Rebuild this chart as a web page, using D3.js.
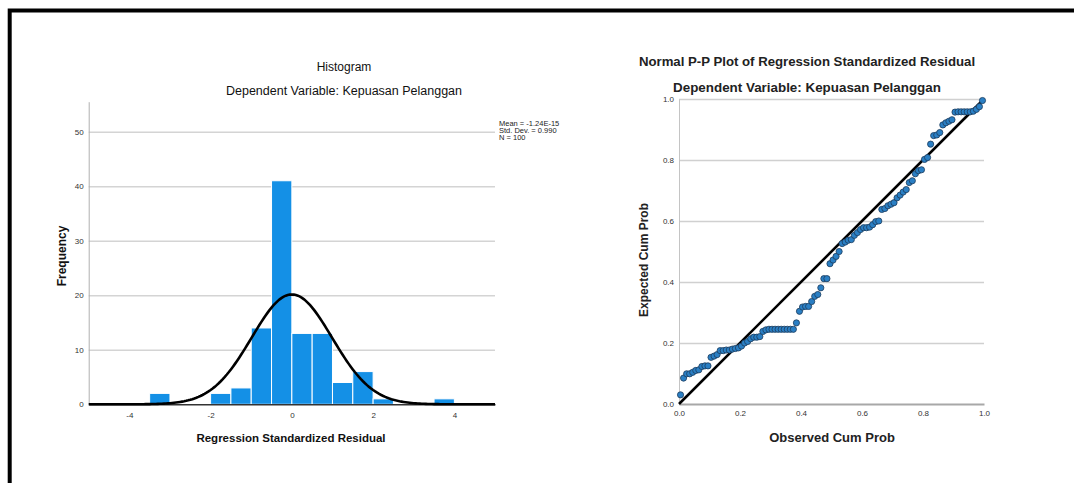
<!DOCTYPE html>
<html>
<head>
<meta charset="utf-8">
<script src="https://cdn.jsdelivr.net/npm/d3@7"></script>
<style>
  body { margin: 0; background: #fff; }
  text { font-family: Arial, "Liberation Sans", sans-serif; }
</style>
</head>
<body>
<svg id="chart" width="1074" height="483"></svg>
<script>
// histogram data (bins of 0.5, value = left edge)
const binStarts = [-3.5, -2, -1.5, -1, -0.5, 0, 0.5, 1, 1.5, 2, 3.5];
const binCounts = [2, 2, 3, 14, 41, 13, 13, 4, 6, 1, 1];
const binWidth = 0.5;
const residMean = -1.24e-15, residSd = 0.990, residN = 100;
const histXTicks = [-4, -2, 0, 2, 4];
const histYTicks = [0, 10, 20, 30, 40, 50];
const statsLines = ["Mean = -1.24E-15", "Std. Dev. = 0.990", "N = 100"];

// P-P plot data
const observedCum = [
  0.005, 0.015, 0.025, 0.035, 0.045, 0.055, 0.065, 0.075, 0.085, 0.095,
  0.105, 0.115, 0.125, 0.135, 0.145, 0.155, 0.165, 0.175, 0.185, 0.195,
  0.205, 0.215, 0.225, 0.235, 0.245, 0.255, 0.265, 0.275, 0.285, 0.295,
  0.305, 0.315, 0.325, 0.335, 0.345, 0.355, 0.365, 0.375, 0.385, 0.395,
  0.405, 0.415, 0.425, 0.435, 0.445, 0.455, 0.465, 0.475, 0.485, 0.495,
  0.505, 0.515, 0.525, 0.535, 0.545, 0.555, 0.565, 0.575, 0.585, 0.595,
  0.605, 0.615, 0.625, 0.635, 0.645, 0.655, 0.665, 0.675, 0.685, 0.695,
  0.705, 0.715, 0.725, 0.735, 0.745, 0.755, 0.765, 0.775, 0.785, 0.795,
  0.805, 0.815, 0.825, 0.835, 0.845, 0.855, 0.865, 0.875, 0.885, 0.895,
  0.905, 0.915, 0.925, 0.935, 0.945, 0.955, 0.965, 0.975, 0.985, 0.995
];
const expectedCum = [
  0.030, 0.085, 0.099, 0.099, 0.104, 0.110, 0.112, 0.123, 0.125, 0.125,
  0.153, 0.157, 0.162, 0.175, 0.175, 0.177, 0.177, 0.180, 0.182, 0.184,
  0.190, 0.200, 0.205, 0.214, 0.219, 0.219, 0.221, 0.238, 0.243, 0.245,
  0.245, 0.245, 0.245, 0.245, 0.245, 0.245, 0.245, 0.245, 0.266, 0.304,
  0.318, 0.320, 0.320, 0.336, 0.353, 0.359, 0.381, 0.411, 0.411, 0.460,
  0.472, 0.484, 0.500, 0.526, 0.531, 0.537, 0.539, 0.553, 0.562, 0.572,
  0.578, 0.578, 0.580, 0.588, 0.598, 0.600, 0.638, 0.641, 0.650, 0.655,
  0.660, 0.676, 0.685, 0.695, 0.703, 0.726, 0.732, 0.755, 0.765, 0.768,
  0.802, 0.808, 0.852, 0.880, 0.882, 0.890, 0.915, 0.922, 0.927, 0.932,
  0.957, 0.958, 0.958, 0.958, 0.958, 0.958, 0.960, 0.966, 0.975, 0.995
];
const ppTicks = [0, 0.2, 0.4, 0.6, 0.8, 1.0];

const svg = d3.select("#chart");

// outer frame
svg.append("path")
  .attr("d", "M9.7,483V10.6H1074")
  .attr("fill", "none")
  .attr("stroke", "#000")
  .attr("stroke-width", 4);

// ---------- histogram ----------
const h = { left: 88.7, right: 495, top: 101.7, bottom: 404.3 };
const xH = d3.scaleLinear().domain([-5, 5]).range([h.left, h.right]);
const yH = d3.scaleLinear().domain([0, 55.5]).range([h.bottom, h.top]);

const gH = svg.append("g");

gH.append("g")
  .attr("transform", `translate(${h.left},0)`)
  .call(d3.axisLeft(yH).tickValues(histYTicks.filter(d => d > 0)).tickSize(-(h.right - h.left)).tickFormat(""))
  .call(g => g.select(".domain").remove())
  .call(g => g.selectAll("line").attr("stroke", "#d4d4d4").attr("stroke-width", 1.5));

gH.append("g")
  .attr("transform", `translate(${h.left},0)`)
  .call(d3.axisLeft(yH).tickValues(histYTicks).tickSize(0).tickPadding(5))
  .call(g => g.select(".domain").attr("stroke", "#b0b0b0"))
  .call(g => g.selectAll("text").attr("font-size", 8).attr("fill", "#333").style("font-family", "Arial, 'Liberation Sans', sans-serif"));

gH.selectAll("rect.bar")
  .data(binStarts)
  .enter()
  .append("rect")
  .attr("class", "bar")
  .attr("x", d => xH(d))
  .attr("width", d => xH(d + binWidth) - xH(d))
  .attr("y", (d, i) => yH(binCounts[i]))
  .attr("height", (d, i) => yH(0) - yH(binCounts[i]))
  .attr("fill", "#1490e6")
  .attr("stroke", "#fff")
  .attr("stroke-width", 1);

gH.append("g")
  .attr("transform", `translate(0,${h.bottom})`)
  .call(d3.axisBottom(xH).tickValues(histXTicks).tickSize(0).tickPadding(8).tickFormat(d => String(d)))
  .call(g => g.select(".domain").attr("stroke", "#333").attr("stroke-width", 1.5))
  .call(g => g.selectAll("text").attr("font-size", 8).attr("fill", "#333").style("font-family", "Arial, 'Liberation Sans', sans-serif"));

// fitted normal curve
const curveXs = d3.range(-5, 5.0001, 0.05);
const normPdf = x => Math.exp(-0.5 * ((x - residMean) / residSd) ** 2) / (residSd * Math.sqrt(2 * Math.PI));
gH.append("path")
  .datum(curveXs)
  .attr("fill", "none")
  .attr("stroke", "#000")
  .attr("stroke-width", 2.6)
  .attr("d", d3.line().x(d => xH(d)).y(d => yH(residN * binWidth * normPdf(d))));

gH.selectAll("text.stat")
  .data(statsLines)
  .enter()
  .append("text")
  .attr("class", "stat")
  .attr("x", 499)
  .attr("y", (d, i) => 125.5 + i * 7)
  .attr("font-size", 7.5)
  .attr("fill", "#222")
  .text(d => d);

gH.append("text").attr("x", 344).attr("y", 71).attr("text-anchor", "middle")
  .attr("font-size", 12).attr("fill", "#111").text("Histogram");
gH.append("text").attr("x", 344).attr("y", 95).attr("text-anchor", "middle")
  .attr("font-size", 12.5).attr("fill", "#111").text("Dependent Variable: Kepuasan Pelanggan");
gH.append("text").attr("transform", "translate(66,256) rotate(-90)").attr("text-anchor", "middle")
  .attr("font-size", 12).attr("font-weight", "bold").attr("fill", "#111").text("Frequency");
gH.append("text").attr("x", 291).attr("y", 442).attr("text-anchor", "middle")
  .attr("font-size", 11.5).attr("font-weight", "bold").attr("fill", "#111").text("Regression Standardized Residual");

// ---------- P-P plot ----------
const p = { left: 679, right: 984, top: 99, bottom: 404 };
const xP = d3.scaleLinear().domain([0, 1]).range([p.left, p.right]);
const yP = d3.scaleLinear().domain([0, 1]).range([p.bottom, p.top]);

const gP = svg.append("g");
const fmt1 = d3.format(".1f");

gP.append("g")
  .attr("transform", `translate(${p.left},0)`)
  .call(d3.axisLeft(yP).tickValues(ppTicks.filter(d => d > 0)).tickSize(-(p.right - p.left)).tickFormat(""))
  .call(g => g.select(".domain").remove())
  .call(g => g.selectAll("line").attr("stroke", "#d0d0d0").attr("stroke-width", 1.3));

gP.append("g")
  .attr("transform", `translate(${p.left},0)`)
  .call(d3.axisLeft(yP).tickValues(ppTicks).tickSize(0).tickPadding(5).tickFormat(fmt1))
  .call(g => g.select(".domain").attr("stroke", "#c4c4c4"))
  .call(g => g.selectAll("text").attr("font-size", 8).attr("fill", "#333").style("font-family", "Arial, 'Liberation Sans', sans-serif"));

gP.append("g")
  .attr("transform", `translate(0,${p.bottom})`)
  .call(d3.axisBottom(xP).tickValues(ppTicks).tickSize(0).tickPadding(6).tickFormat(fmt1))
  .call(g => g.select(".domain").attr("stroke", "#a8a8a8").attr("stroke-width", 2))
  .call(g => g.selectAll("text").attr("font-size", 8).attr("fill", "#333").style("font-family", "Arial, 'Liberation Sans', sans-serif"));

gP.append("line")
  .attr("x1", xP(0)).attr("y1", yP(0))
  .attr("x2", xP(1)).attr("y2", yP(1))
  .attr("stroke", "#000")
  .attr("stroke-width", 2.6);

gP.selectAll("circle.pt")
  .data(observedCum)
  .enter()
  .append("circle")
  .attr("class", "pt")
  .attr("cx", d => xP(d))
  .attr("cy", (d, i) => yP(expectedCum[i]))
  .attr("r", 3.1)
  .attr("fill", "#2a7fc4")
  .attr("stroke", "#1c3b5c")
  .attr("stroke-width", 0.8);

gP.append("text").attr("x", 807).attr("y", 66).attr("text-anchor", "middle")
  .attr("font-size", 13.2).attr("font-weight", "bold").attr("fill", "#222").text("Normal P-P Plot of Regression Standardized Residual");
gP.append("text").attr("x", 807).attr("y", 92).attr("text-anchor", "middle")
  .attr("font-size", 13.4).attr("font-weight", "bold").attr("fill", "#222").text("Dependent Variable: Kepuasan Pelanggan");
gP.append("text").attr("transform", "translate(648,260) rotate(-90)").attr("text-anchor", "middle")
  .attr("font-size", 12).attr("font-weight", "bold").attr("fill", "#222").text("Expected Cum Prob");
gP.append("text").attr("x", 832).attr("y", 442).attr("text-anchor", "middle")
  .attr("font-size", 13).attr("font-weight", "bold").attr("fill", "#222").text("Observed Cum Prob");
</script>
</body>
</html>
